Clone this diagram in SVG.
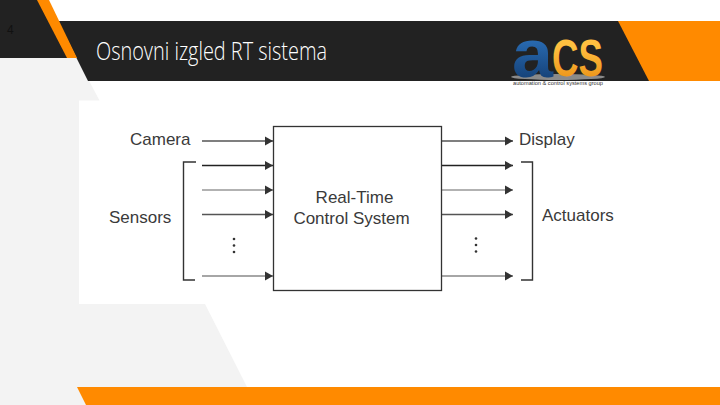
<svg xmlns="http://www.w3.org/2000/svg" width="720" height="405" viewBox="0 0 720 405">
<defs>
<marker id="ah" markerUnits="userSpaceOnUse" markerWidth="9" markerHeight="10" refX="8" refY="5" orient="auto"><path d="M0,0.500 L8,5 L0,9.500 Z" fill="#333"/></marker>
<linearGradient id="lg" x1="0" y1="0" x2="0" y2="1"><stop offset="0.3" stop-color="#ffc040"/><stop offset="1" stop-color="#e88a10"/></linearGradient>
<linearGradient id="lb" x1="0" y1="0" x2="0" y2="1"><stop offset="0.3" stop-color="#2a6db5"/><stop offset="1" stop-color="#0f3566"/></linearGradient>
</defs>
<style>
.l{font-family:"Liberation Sans",Arial,sans-serif;font-size:17px;fill:#3a3a3a}
.a{fill:none;stroke-width:1.5;marker-end:url(#ah)}
.b{fill:none;stroke:#333;stroke-width:1.4}
.d{fill:#333}
</style>
<rect width="720" height="405" fill="#fff"/>
<g id="background">
<path d="M0,58H77L99.500,100.500H79V304H205L247,387H86V405H0Z" fill="#f3f3f3"/>
<path d="M0,0H38L68,58H0Z" fill="#222"/>
<path d="M58,21H720V81H88Z" fill="#222"/>
<path d="M37,0H49L77,58H67Z" fill="#ff8a00"/>
<path d="M618,21H720V81H649Z" fill="#ff8a00"/>
<path d="M77,387H720V405H86Z" fill="#ff8a00"/>
</g>
<text id="page" x="7" y="34" font-family="'Liberation Sans',Arial,sans-serif" font-size="12" fill="#111">4</text>
<text id="title" x="96" y="60" font-family="'Open Sans',Roboto,sans-serif" font-weight="300" font-size="25" fill="#fff" textLength="231" lengthAdjust="spacingAndGlyphs">Osnovni izgled RT sistema</text>
<g id="logo">
<ellipse cx="558" cy="77" rx="47" ry="3" fill="#8a8a8a"/>
<text x="512" y="77" font-family="'Liberation Sans',Arial,sans-serif" font-weight="700" font-size="68" fill="url(#lb)" textLength="41" lengthAdjust="spacingAndGlyphs">a</text>
<text x="552" y="76" font-family="'Liberation Sans',Arial,sans-serif" font-weight="700" font-size="52" fill="url(#lg)" textLength="51" lengthAdjust="spacingAndGlyphs">CS</text>
<text x="513" y="85" font-family="'Liberation Sans',Arial,sans-serif" font-size="6" fill="#333" textLength="90" lengthAdjust="spacingAndGlyphs">automation &amp; control systems group</text>
</g>
<g id="connectors">
<path class="a" stroke="#555" d="M202,141H273"/>
<path class="a" stroke="#222" d="M202,165.500H273"/>
<path class="a" stroke="#999" d="M202,190H273"/>
<path class="a" stroke="#555" d="M202,214.500H273"/>
<path class="a" stroke="#888" d="M202,276H273"/>
<path class="a" stroke="#555" d="M442,141H513"/>
<path class="a" stroke="#222" d="M442,165.500H513"/>
<path class="a" stroke="#999" d="M442,190H513"/>
<path class="a" stroke="#555" d="M442,214.500H513"/>
<path class="a" stroke="#888" d="M442,276H513"/>
</g>
<g id="system">
<rect x="273.500" y="126.500" width="168" height="164" fill="#fff" stroke="#333" stroke-width="1.3"/>
<text class="l" x="354.500" y="203" text-anchor="middle">Real-Time</text>
<text class="l" x="351.500" y="224" text-anchor="middle">Control System</text>
</g>
<g id="camera"><text class="l" x="130" y="145">Camera</text></g>
<g id="sensors">
<text class="l" x="109" y="223">Sensors</text>
<path class="b" d="M196,162H183.500V280H195"/>
<circle class="d" cx="234" cy="239" r="1.300"/><circle class="d" cx="234" cy="245.500" r="1.300"/><circle class="d" cx="234" cy="252" r="1.300"/>
</g>
<g id="display"><text class="l" x="519" y="145">Display</text></g>
<g id="actuators">
<text class="l" x="542" y="221">Actuators</text>
<path class="b" d="M521,162H532.500V280H521"/>
<circle class="d" cx="476" cy="238.500" r="1.300"/><circle class="d" cx="476" cy="245" r="1.300"/><circle class="d" cx="476" cy="251.500" r="1.300"/>
</g>
</svg>
